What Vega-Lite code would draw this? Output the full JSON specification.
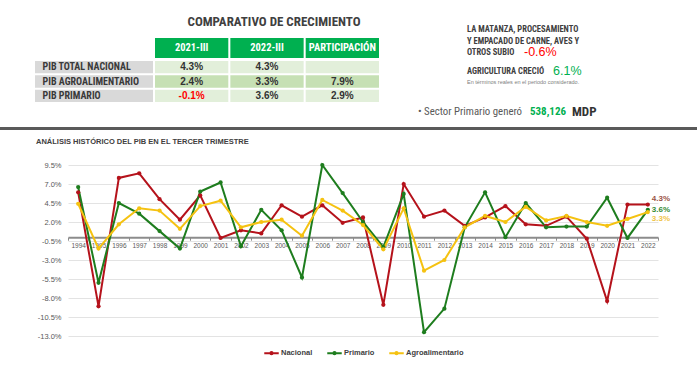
{
"$schema": "https://vega.github.io/schema/vega-lite/v6.json",
"padding": 0,
"background": "white",
"spacing": 0,
"config": {"view": {"stroke": null}, "font": "Liberation Sans", "locale": {"number": {"decimal": ".", "thousands": ",", "grouping": [3], "currency": ["$", ""], "minus": "-"}}},
"datasets": {
"filas": [{"fila": "PIB TOTAL NACIONAL"}, {"fila": "PIB AGROALIMENTARIO"}, {"fila": "PIB PRIMARIO"}],
"cols": [{"col": "2021-III"}, {"col": "2022-III"}, {"col": "PARTICIPACIÓN"}],
"tabla": [
{"fila": "PIB TOTAL NACIONAL", "col": "2021-III", "v": 0.043},
{"fila": "PIB TOTAL NACIONAL", "col": "2022-III", "v": 0.043},
{"fila": "PIB TOTAL NACIONAL", "col": "PARTICIPACIÓN", "v": null},
{"fila": "PIB AGROALIMENTARIO", "col": "2021-III", "v": 0.024},
{"fila": "PIB AGROALIMENTARIO", "col": "2022-III", "v": 0.033},
{"fila": "PIB AGROALIMENTARIO", "col": "PARTICIPACIÓN", "v": 0.079},
{"fila": "PIB PRIMARIO", "col": "2021-III", "v": -0.001},
{"fila": "PIB PRIMARIO", "col": "2022-III", "v": 0.036},
{"fila": "PIB PRIMARIO", "col": "PARTICIPACIÓN", "v": 0.029}
],
"serie": [
{"anio":"1994","serie":"Nacional","v":0.059},{"anio":"1994","serie":"Primario","v":0.066},{"anio":"1994","serie":"Agroalimentario","v":0.044},
{"anio":"1995","serie":"Nacional","v":-0.091},{"anio":"1995","serie":"Primario","v":-0.060},{"anio":"1995","serie":"Agroalimentario","v":-0.015},
{"anio":"1996","serie":"Nacional","v":0.078},{"anio":"1996","serie":"Primario","v":0.045},{"anio":"1996","serie":"Agroalimentario","v":0.017},
{"anio":"1997","serie":"Nacional","v":0.084},{"anio":"1997","serie":"Primario","v":0.031},{"anio":"1997","serie":"Agroalimentario","v":0.038},
{"anio":"1998","serie":"Nacional","v":0.050},{"anio":"1998","serie":"Primario","v":0.008},{"anio":"1998","serie":"Agroalimentario","v":0.035},
{"anio":"1999","serie":"Nacional","v":0.023},{"anio":"1999","serie":"Primario","v":-0.015},{"anio":"1999","serie":"Agroalimentario","v":0.011},
{"anio":"2000","serie":"Nacional","v":0.055},{"anio":"2000","serie":"Primario","v":0.060},{"anio":"2000","serie":"Agroalimentario","v":0.041},
{"anio":"2001","serie":"Nacional","v":-0.001},{"anio":"2001","serie":"Primario","v":0.072},{"anio":"2001","serie":"Agroalimentario","v":0.048},
{"anio":"2002","serie":"Nacional","v":0.009},{"anio":"2002","serie":"Primario","v":-0.012},{"anio":"2002","serie":"Agroalimentario","v":0.013},
{"anio":"2003","serie":"Nacional","v":0.005},{"anio":"2003","serie":"Primario","v":0.036},{"anio":"2003","serie":"Agroalimentario","v":0.020},
{"anio":"2004","serie":"Nacional","v":0.042},{"anio":"2004","serie":"Primario","v":0.009},{"anio":"2004","serie":"Agroalimentario","v":0.023},
{"anio":"2005","serie":"Nacional","v":0.027},{"anio":"2005","serie":"Primario","v":-0.053},{"anio":"2005","serie":"Agroalimentario","v":0.002},
{"anio":"2006","serie":"Nacional","v":0.042},{"anio":"2006","serie":"Primario","v":0.095},{"anio":"2006","serie":"Agroalimentario","v":0.049},
{"anio":"2007","serie":"Nacional","v":0.019},{"anio":"2007","serie":"Primario","v":0.058},{"anio":"2007","serie":"Agroalimentario","v":0.035},
{"anio":"2008","serie":"Nacional","v":0.026},{"anio":"2008","serie":"Primario","v":0.020},{"anio":"2008","serie":"Agroalimentario","v":0.016},
{"anio":"2009","serie":"Nacional","v":-0.089},{"anio":"2009","serie":"Primario","v":-0.013},{"anio":"2009","serie":"Agroalimentario","v":-0.016},
{"anio":"2010","serie":"Nacional","v":0.070},{"anio":"2010","serie":"Primario","v":0.057},{"anio":"2010","serie":"Agroalimentario","v":0.038},
{"anio":"2011","serie":"Nacional","v":0.027},{"anio":"2011","serie":"Primario","v":-0.125},{"anio":"2011","serie":"Agroalimentario","v":-0.044},
{"anio":"2012","serie":"Nacional","v":0.035},{"anio":"2012","serie":"Primario","v":-0.094},{"anio":"2012","serie":"Agroalimentario","v":-0.030},
{"anio":"2013","serie":"Nacional","v":0.015},{"anio":"2013","serie":"Primario","v":0.013},{"anio":"2013","serie":"Agroalimentario","v":0.013},
{"anio":"2014","serie":"Nacional","v":0.026},{"anio":"2014","serie":"Primario","v":0.059},{"anio":"2014","serie":"Agroalimentario","v":0.028},
{"anio":"2015","serie":"Nacional","v":0.041},{"anio":"2015","serie":"Primario","v":0.000},{"anio":"2015","serie":"Agroalimentario","v":0.020},
{"anio":"2016","serie":"Nacional","v":0.017},{"anio":"2016","serie":"Primario","v":0.045},{"anio":"2016","serie":"Agroalimentario","v":0.040},
{"anio":"2017","serie":"Nacional","v":0.015},{"anio":"2017","serie":"Primario","v":0.013},{"anio":"2017","serie":"Agroalimentario","v":0.022},
{"anio":"2018","serie":"Nacional","v":0.027},{"anio":"2018","serie":"Primario","v":0.014},{"anio":"2018","serie":"Agroalimentario","v":0.028},
{"anio":"2019","serie":"Nacional","v":-0.002},{"anio":"2019","serie":"Primario","v":0.014},{"anio":"2019","serie":"Agroalimentario","v":0.020},
{"anio":"2020","serie":"Nacional","v":-0.084},{"anio":"2020","serie":"Primario","v":0.052},{"anio":"2020","serie":"Agroalimentario","v":0.015},
{"anio":"2021","serie":"Nacional","v":0.043},{"anio":"2021","serie":"Primario","v":-0.001},{"anio":"2021","serie":"Agroalimentario","v":0.024},
{"anio":"2022","serie":"Nacional","v":0.043},{"anio":"2022","serie":"Primario","v":0.036},{"anio":"2022","serie":"Agroalimentario","v":0.033}
]
},
"vconcat": [
{
"spacing": 0,
"hconcat": [
{"width": 35, "height": 127, "data": {"values": []}, "mark": "text", "encoding": {"text": {"value": ""}}},
{
"spacing": 0,
"vconcat": [
{"width": 344, "height": 15.7, "data": {"values": []}, "mark": "text", "encoding": {"text": {"value": ""}}},
{
"spacing": 3,
"vconcat": [
{
"spacing": 2,
"hconcat": [
{"width": 118, "height": 20, "data": {"values": []}, "mark": "text", "encoding": {"text": {"value": ""}}},
{
"width": 224, "height": 20,
"title": {"text": "COMPARATIVO DE CRECIMIENTO", "anchor": "middle", "dx": 7, "offset": 9, "fontSize": 13, "font": "Roboto Condensed, DejaVu Sans Condensed, Liberation Sans Narrow, Liberation Sans, sans-serif", "fontWeight": "bold", "color": "#404040"},
"data": {"name": "cols"},
"encoding": {"x": {"field": "col", "type": "nominal", "scale": {"domain": ["2021-III", "2022-III", "PARTICIPACIÓN"], "paddingInner": 0.027, "paddingOuter": 0}, "axis": null}},
"layer": [
{"mark": {"type": "rect", "fill": "#00b050"}},
{"mark": {"type": "text", "color": "white", "font": "Roboto Condensed, DejaVu Sans Condensed, Liberation Sans Narrow, Liberation Sans, sans-serif", "fontWeight": "bold", "fontSize": 10.5}, "encoding": {"text": {"field": "col"}}}
]
}
]
},
{
"spacing": 2,
"hconcat": [
{
"width": 118, "height": 41,
"data": {"name": "filas"},
"encoding": {"y": {"field": "fila", "type": "nominal", "scale": {"domain": ["PIB TOTAL NACIONAL", "PIB AGROALIMENTARIO", "PIB PRIMARIO"], "paddingInner": 0.14, "paddingOuter": 0}, "axis": null}},
"layer": [
{"mark": {"type": "rect", "fill": "#d9d9d9"}},
{"mark": {"type": "text", "align": "left", "dx": 7.5, "font": "Roboto Condensed, DejaVu Sans Condensed, Liberation Sans Narrow, Liberation Sans, sans-serif", "fontWeight": "bold", "fontSize": 10, "color": "#3a3a3a"},
 "encoding": {"text": {"field": "fila"}, "x": {"datum": 0, "type": "quantitative", "scale": {"domain": [0, 1], "nice": false}, "axis": null}}}
]
},
{
"width": 224, "height": 41,
"data": {"name": "tabla"},
"encoding": {
"x": {"field": "col", "type": "nominal", "scale": {"domain": ["2021-III", "2022-III", "PARTICIPACIÓN"], "paddingInner": 0.027, "paddingOuter": 0}, "axis": null},
"y": {"field": "fila", "type": "nominal", "scale": {"domain": ["PIB TOTAL NACIONAL", "PIB AGROALIMENTARIO", "PIB PRIMARIO"], "paddingInner": 0.14, "paddingOuter": 0}, "axis": null}
},
"layer": [
{"mark": "rect", "encoding": {"fill": {"condition": {"test": "datum.fila === 'PIB AGROALIMENTARIO'", "value": "#c6e0b4"}, "value": "#e2efda"}}},
{"transform": [{"filter": "isValid(datum.v)"}],
 "mark": {"type": "text", "font": "Liberation Sans", "fontWeight": "bold", "fontSize": 10},
 "encoding": {"text": {"field": "v", "type": "quantitative", "format": ".1%"}, "color": {"condition": {"test": "datum.v < 0", "value": "#ff0000"}, "value": "#333333"}}}
]
}
]
}
]
}
]
},
{
"width": 318, "height": 127,
"data": {"values": [{}]},
"layer": [
{"mark": {"type": "text", "align": "left", "baseline": "middle", "font": "Roboto Condensed, DejaVu Sans Condensed, Liberation Sans Narrow, Liberation Sans, sans-serif", "fontWeight": "bold", "fontSize": 8.5, "color": "#404040"},
 "encoding": {"x": {"datum": 88, "type": "quantitative", "scale": {"domain": [0, 318], "nice": false}, "axis": null}, "y": {"datum": 29.3, "type": "quantitative", "scale": {"domain": [0, 127], "nice": false, "reverse": true}, "axis": null}, "text": {"value": "LA MATANZA, PROCESAMIENTO"}}},
{"mark": {"type": "text", "align": "left", "baseline": "middle", "font": "Roboto Condensed, DejaVu Sans Condensed, Liberation Sans Narrow, Liberation Sans, sans-serif", "fontWeight": "bold", "fontSize": 8.5, "color": "#404040"},
 "encoding": {"x": {"datum": 88, "type": "quantitative"}, "y": {"datum": 40.5, "type": "quantitative"}, "text": {"value": "Y EMPACADO DE CARNE, AVES Y"}}},
{"mark": {"type": "text", "align": "left", "baseline": "middle", "font": "Roboto Condensed, DejaVu Sans Condensed, Liberation Sans Narrow, Liberation Sans, sans-serif", "fontWeight": "bold", "fontSize": 8.5, "color": "#404040"},
 "encoding": {"x": {"datum": 88, "type": "quantitative"}, "y": {"datum": 51.5, "type": "quantitative"}, "text": {"value": "OTROS SUBIO"}}},
{"mark": {"type": "text", "align": "left", "baseline": "middle", "font": "Liberation Sans", "fontSize": 12.5, "color": "#ff0000"},
 "encoding": {"x": {"datum": 145, "type": "quantitative"}, "y": {"datum": 52.3, "type": "quantitative"}, "text": {"value": "-0.6%"}}},
{"mark": {"type": "text", "align": "left", "baseline": "middle", "font": "Roboto Condensed, DejaVu Sans Condensed, Liberation Sans Narrow, Liberation Sans, sans-serif", "fontWeight": "bold", "fontSize": 8.5, "color": "#404040"},
 "encoding": {"x": {"datum": 88, "type": "quantitative"}, "y": {"datum": 70.7, "type": "quantitative"}, "text": {"value": "AGRICULTURA CRECIÓ"}}},
{"mark": {"type": "text", "align": "left", "baseline": "middle", "font": "Liberation Sans", "fontSize": 12.5, "color": "#00b050"},
 "encoding": {"x": {"datum": 174, "type": "quantitative"}, "y": {"datum": 70.7, "type": "quantitative"}, "text": {"value": "6.1%"}}},
{"mark": {"type": "text", "align": "left", "baseline": "middle", "font": "Liberation Sans", "fontSize": 5.5, "color": "#808080"},
 "encoding": {"x": {"datum": 88, "type": "quantitative"}, "y": {"datum": 82.3, "type": "quantitative"}, "text": {"value": "En términos reales en el periodo considerado."}}},
{"mark": {"type": "text", "align": "left", "baseline": "middle", "font": "Roboto Condensed, DejaVu Sans Condensed, Liberation Sans Narrow, Liberation Sans, sans-serif", "fontSize": 10.8, "color": "#595959"},
 "encoding": {"x": {"datum": 39, "type": "quantitative"}, "y": {"datum": 111.7, "type": "quantitative"}, "text": {"value": "• Sector Primario generó"}}},
{"mark": {"type": "text", "align": "left", "baseline": "middle", "font": "Roboto Condensed, DejaVu Sans Condensed, Liberation Sans Narrow, Liberation Sans, sans-serif", "fontWeight": "bold", "fontSize": 11, "color": "#00b050"},
 "encoding": {"x": {"datum": 151, "type": "quantitative"}, "y": {"datum": 111.7, "type": "quantitative"}, "text": {"value": "538,126"}}},
{"mark": {"type": "text", "align": "left", "baseline": "middle", "font": "Roboto Condensed, DejaVu Sans Condensed, Liberation Sans Narrow, Liberation Sans, sans-serif", "fontWeight": "bold", "fontSize": 13, "color": "#333333"},
 "encoding": {"x": {"datum": 193, "type": "quantitative"}, "y": {"datum": 111.7, "type": "quantitative"}, "text": {"value": "MDP"}}}
]
}
]
},
{"width": 697, "height": 3, "view": {"fill": "#5a5a5a", "stroke": null}, "data": {"values": []}, "mark": "text", "encoding": {"text": {"value": ""}}},
{"width": 697, "height": 6.8, "data": {"values": []}, "mark": "text", "encoding": {"text": {"value": ""}}},
{
"spacing": 0,
"hconcat": [
{"width": 36, "height": 10, "data": {"values": []}, "mark": "text", "encoding": {"text": {"value": ""}}},
{
"width": 590, "height": 171,
"title": {"text": "ANÁLISIS HISTÓRICO DEL PIB EN EL TERCER TRIMESTRE", "anchor": "start", "frame": "group", "dx": -32, "offset": 15.7, "fontSize": 7.5, "fontWeight": "bold", "font": "Liberation Sans", "color": "#404040"},
"data": {"name": "serie"},
"encoding": {
"x": {"field": "anio", "type": "ordinal", "bandPosition": 0.5, "scale": {"type": "band", "paddingInner": 0, "paddingOuter": 0},
 "axis": {"orient": "bottom", "offset": -98.8, "title": null, "tickBand": "extent", "domainColor": "#8c8c8c", "domainWidth": 2, "tickColor": "#8c8c8c", "tickSize": 3, "tickWidth": 1, "labelFontSize": 6.5, "labelColor": "#595959", "labelPadding": 2, "labelAngle": 0, "grid": false, "labelOverlap": false, "labelFlush": false}},
"y": {"field": "v", "type": "quantitative", "scale": {"domain": [-0.13, 0.095], "nice": false, "zero": false},
 "axis": {"title": null, "values": [-0.13, -0.105, -0.08, -0.055, -0.03, -0.005, 0.02, 0.045, 0.07, 0.095], "format": ".1%", "domain": false, "ticks": false, "grid": true, "gridColor": "#e3e3e3", "gridWidth": 1, "labelFontSize": 7.5, "labelColor": "#595959", "labelPadding": 7}}
},
"layer": [
{"mark": {"type": "line", "strokeWidth": 2, "point": {"filled": true, "size": 18}},
 "encoding": {"color": {"field": "serie", "type": "nominal", "scale": {"domain": ["Nacional", "Primario", "Agroalimentario"], "range": ["#b5121b", "#1e7d1e", "#f5c211"]},
  "legend": {"orient": "none", "legendX": 263, "legendY": 344.5, "direction": "horizontal", "title": null, "symbolType": "M-1,0H1M-0.15,0a0.15,0.15 0 1,0 0.3,0a0.15,0.15 0 1,0 -0.3,0", "symbolSize": 210, "symbolStrokeWidth": 2, "labelFont": "Liberation Sans", "labelFontWeight": "bold", "labelFontSize": 7.5, "labelColor": "#404040", "labelOffset": 1, "columnPadding": 10, "padding": 0}}}},
{"transform": [{"filter": "datum.anio === '2022' && datum.serie === 'Nacional'"}],
 "mark": {"type": "text", "align": "left", "baseline": "middle", "dx": 4, "dy": -5.5, "fontSize": 8, "fontWeight": "bold", "color": "#9a5244"},
 "encoding": {"text": {"field": "v", "type": "quantitative", "format": ".1%"}}},
{"transform": [{"filter": "datum.anio === '2022' && datum.serie === 'Primario'"}],
 "mark": {"type": "text", "align": "left", "baseline": "middle", "dx": 4, "dy": 0.5, "fontSize": 8, "fontWeight": "bold", "color": "#348a34"},
 "encoding": {"text": {"field": "v", "type": "quantitative", "format": ".1%"}}},
{"transform": [{"filter": "datum.anio === '2022' && datum.serie === 'Agroalimentario'"}],
 "mark": {"type": "text", "align": "left", "baseline": "middle", "dx": 4, "dy": 7, "fontSize": 8, "fontWeight": "bold", "color": "#f0c447"},
 "encoding": {"text": {"field": "v", "type": "quantitative", "format": ".1%"}}}
]
}
]
}
]
}
